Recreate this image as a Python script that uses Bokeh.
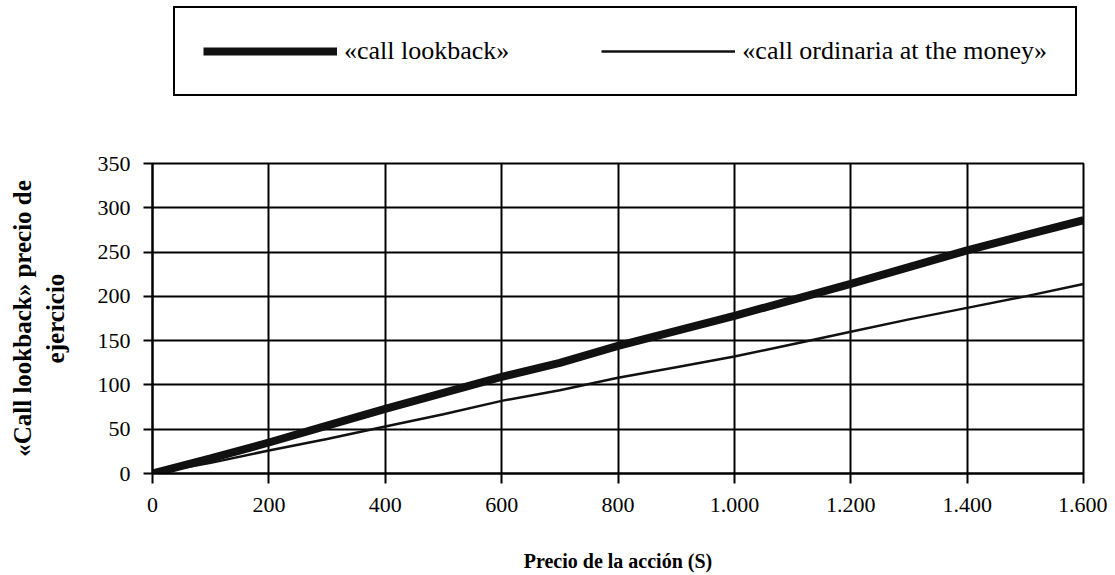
from bokeh.plotting import figure
from bokeh.models import Legend, LegendItem, FixedTicker, Range1d
from bokeh.layouts import column
from bokeh.embed import file_html
from bokeh.resources import INLINE

# ---- data ----
stock_price = [0, 100, 200, 300, 400, 500, 600, 700, 800, 900, 1000, 1100, 1200, 1300, 1400, 1500, 1600]
call_lookback = [0, 17, 35, 54, 73, 91, 109, 125, 144, 161, 178, 196, 214, 233, 252, 269, 286]
call_ordinaria = [0, 12, 26, 39, 53, 67, 82, 94, 108, 120, 132, 146, 160, 174, 187, 200, 214]

x_ticks = [0, 200, 400, 600, 800, 1000, 1200, 1400, 1600]
x_tick_labels = ["0", "200", "400", "600", "800", "1.000", "1.200", "1.400", "1.600"]
y_ticks = [0, 50, 100, 150, 200, 250, 300, 350]
y_tick_labels = ["0", "50", "100", "150", "200", "250", "300", "350"]

series_names = ["«call lookback»", "«call ordinaria at the money»"]
x_title = "Precio de la acción (S)"
y_title = "«Call lookback» precio de\nejercicio"

FONT = "Liberation Serif"
W = 1107
LINE_COLOR = "#111111"
THICK = 8
THIN = 2.5

# ---- legend strip (own figure; the series lie outside its ranges, only the legend shows) ----
lg = figure(width=W, height=100, output_backend="svg", toolbar_location=None,
            x_axis_type=None, y_axis_type=None,
            x_range=Range1d(-2, -1), y_range=Range1d(-2, -1))
lg.frame_align = False
lg.min_border_left = 0
lg.min_border_right = 0
lg.min_border_top = 0
lg.min_border_bottom = 0
lg.outline_line_color = None
lg.xgrid.visible = False
lg.ygrid.visible = False
lg.background_fill_color = "white"
lg.border_fill_color = "white"
k1 = lg.line(stock_price, call_lookback, line_color=LINE_COLOR, line_width=THICK)
k2 = lg.line(stock_price, call_ordinaria, line_color=LINE_COLOR, line_width=THIN)
legend = Legend(items=[LegendItem(label=series_names[0], renderers=[k1]),
                       LegendItem(label=series_names[1], renderers=[k2])],
                orientation="horizontal",
                location=(173, 4),
                glyph_width=134, glyph_height=30, label_height=30,
                label_standoff=7, spacing=92, padding=28, margin=0,
                label_text_font_size="26px",
                label_text_color="black",
                border_line_color="black", border_line_width=2, border_line_alpha=1.0,
                background_fill_color="white", background_fill_alpha=1.0)
legend.label_text_font = FONT
lg.add_layout(legend)

# ---- main chart ----
p = figure(width=W, height=474, output_backend="svg", toolbar_location=None,
           x_range=Range1d(0, 1600), y_range=Range1d(0, 350))
p.min_border_left = 152
p.min_border_right = W - 152 - 931
p.min_border_top = 63
p.min_border_bottom = 474 - 63 - 310
p.background_fill_color = "white"
p.border_fill_color = "white"
p.outline_line_color = "black"
p.outline_line_width = 2

p.line(stock_price, call_lookback, line_color=LINE_COLOR, line_width=THICK)
p.line(stock_price, call_ordinaria, line_color=LINE_COLOR, line_width=THIN)

for ax in (p.xaxis[0], p.yaxis[0]):
    ax.axis_line_color = "black"
    ax.axis_line_width = 2
    ax.major_tick_line_color = "black"
    ax.major_tick_line_width = 2
    ax.major_tick_in = 0
    ax.minor_tick_line_color = None
    ax.major_label_text_font = FONT
    ax.major_label_text_font_size = "22px"
    ax.major_label_text_color = "black"
    ax.axis_label_text_font = FONT
    ax.axis_label_text_font_style = "bold"
    ax.axis_label_text_color = "black"

p.xaxis[0].ticker = FixedTicker(ticks=x_ticks)
p.xaxis[0].major_label_overrides = dict(zip(x_ticks, x_tick_labels))
p.xaxis[0].major_tick_out = 10
p.xaxis[0].major_label_standoff = 14
p.xaxis[0].axis_label = x_title
p.xaxis[0].axis_label_text_font_size = "20px"
p.xaxis[0].axis_label_standoff = 35

p.yaxis[0].ticker = FixedTicker(ticks=y_ticks)
p.yaxis[0].major_label_overrides = dict(zip(y_ticks, y_tick_labels))
p.yaxis[0].major_tick_out = 9
p.yaxis[0].major_label_standoff = 13
p.yaxis[0].axis_label = y_title
p.yaxis[0].axis_label_text_font_size = "25px"
p.yaxis[0].axis_label_standoff = 26

p.xgrid.ticker = FixedTicker(ticks=x_ticks)
p.ygrid.ticker = FixedTicker(ticks=y_ticks)
for g in (p.xgrid[0], p.ygrid[0]):
    g.grid_line_color = "black"
    g.grid_line_width = 2
    g.grid_line_alpha = 1.0

layout = column(lg, p, spacing=0)
open("out.html", "w").write(file_html(layout, INLINE))
